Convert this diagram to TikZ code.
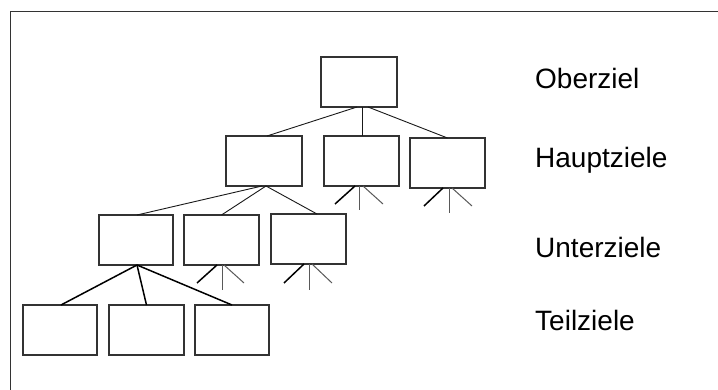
\documentclass[tikz,border=0pt]{standalone}
\usepackage{fontspec}
\setmainfont{Liberation Sans}
\begin{document}
\begin{tikzpicture}[x=1pt,y=-1pt,
  goal/.style={draw=black!80,line width=1.1pt,minimum width=75pt,minimum height=50pt,inner sep=0pt,outer sep=0pt},
  link/.style={draw=black!90,line width=0.9pt},
  thick link/.style={draw=black,line width=1.5pt},
  spike/.style={draw=black!65,line width=1pt},
  spikebold/.style={draw=black,line width=1.5pt},
  lvl/.style={anchor=base west,inner sep=0pt,font=\fontsize{28}{33}\selectfont}]
\useasboundingbox (0,0) rectangle (718,390);
\fill[white] (0,0) rectangle (718,390);
% frame (only top and left edges visible)
\coordinate (fA) at (10.5,390);
\coordinate (fB) at (10.5,11.5);
\coordinate (fC) at (718,11.5);
\draw[black!80,line width=1.2pt] (fA) -- (fB) -- (fC);
% boxes
\node[goal,minimum width=76pt] (O) at (359,82) {};
\node[goal,minimum width=76pt] (H1) at (264,161) {};
\node[goal] (H2) at (361.5,161) {};
\node[goal] (H3) at (447.5,163) {};
\node[goal,minimum width=74pt] (U1) at (136,240) {};
\node[goal] (U2) at (221.5,240) {};
\node[goal] (U3) at (308.5,239) {};
\node[goal,minimum width=74pt] (T1) at (60,330) {};
\node[goal] (T2) at (146.5,330) {};
\node[goal,minimum width=74pt] (T3) at (232,330) {};
% labels
\node[lvl] (lO) at (535,89) {Oberziel};
\node[lvl] (lH) at (535,167.3) {Hauptziele};
\node[lvl] (lU) at (535,257.5) {Unterziele};
\node[lvl] (lT) at (535,330.3) {Teilziele};
% connectors level 1
\draw[link] ([xshift=-2pt]O.south) -- ([xshift=3pt]H1.north);
\draw[link] ([xshift=3pt]O.south) -- ([xshift=0.5pt]H2.north);
\draw[link] ([xshift=9pt]O.south) -- (H3.north);
% connectors level 2
\draw[link] ([xshift=-2pt]H1.south) -- ([xshift=1pt]U1.north);
\draw[link] ([xshift=2pt]H1.south) -- (U2.north);
\draw[link] ([xshift=2pt]H1.south) -- ([xshift=8.5pt]U3.north);
% connectors level 3
\draw[thick link] ([xshift=1pt]U1.south) -- ([xshift=1pt]T1.north);
\draw[thick link] ([xshift=1pt]U1.south) -- (T2.north);
\draw[thick link] ([xshift=1pt]U1.south) -- (T3.north);
% spikes
\coordinate (h2a) at (335,204); \coordinate (h2b) at (359,210); \coordinate (h2c) at (383,204);
\draw[spikebold] ([xshift=-6.5pt]H2.south) -- (h2a);
\draw[spike] ([xshift=-2.5pt]H2.south) -- (h2b);
\draw[spike] ([xshift=1.5pt]H2.south) -- (h2c);
\coordinate (h3a) at (424,206); \coordinate (h3b) at (449,213); \coordinate (h3c) at (472,206);
\draw[spikebold] ([xshift=-4.5pt]H3.south) -- (h3a);
\draw[spike] ([xshift=1.5pt]H3.south) -- (h3b);
\draw[spike] ([xshift=4.5pt]H3.south) -- (h3c);
\coordinate (u2a) at (197,283); \coordinate (u2b) at (222,290); \coordinate (u2c) at (244,283);
\draw[spikebold] ([xshift=-4.5pt]U2.south) -- (u2a);
\draw[spike] ([xshift=0.5pt]U2.south) -- (u2b);
\draw[spike] ([xshift=2.5pt]U2.south) -- (u2c);
\coordinate (u3a) at (284,283); \coordinate (u3b) at (309,290); \coordinate (u3c) at (332,283);
\draw[spikebold] ([xshift=-4.5pt]U3.south) -- (u3a);
\draw[spike] ([xshift=0.5pt]U3.south) -- (u3b);
\draw[spike] ([xshift=3.5pt]U3.south) -- (u3c);
\end{tikzpicture}
\end{document}
